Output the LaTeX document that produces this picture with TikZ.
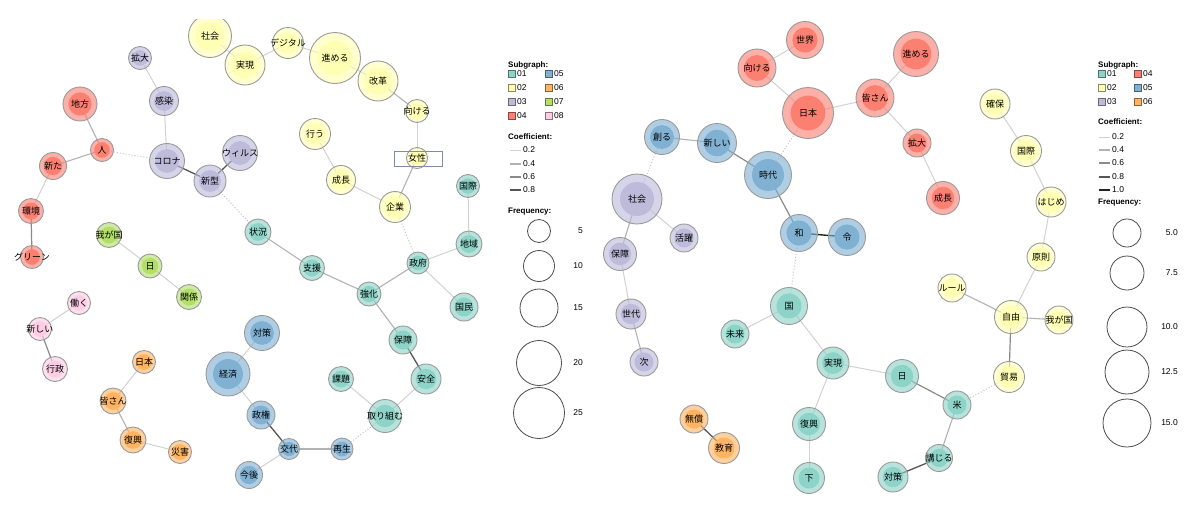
\documentclass[tikz,border=0pt]{standalone}
\usepackage{fontspec}
\setmainfont{Liberation Sans}
\newfontfamily\jpfont{Noto Sans CJK JP}
\usepackage{tikz}
\usetikzlibrary{calc}
\pgfdeclarelayer{background}
\pgfsetlayers{background,main}
\newsavebox{\kwbox}
\definecolor{SgTeal}{HTML}{8DD3C7}
\definecolor{SgYellow}{HTML}{FFFFB3}
\definecolor{SgLilac}{HTML}{BEBADA}
\definecolor{SgSalmon}{HTML}{FB8072}
\definecolor{SgBlue}{HTML}{80B1D3}
\definecolor{SgOrange}{HTML}{FDB462}
\definecolor{SgGreen}{HTML}{B3DE69}
\definecolor{SgPink}{HTML}{FCCDE5}
\definecolor{RingGray}{HTML}{9A9A9A}
\definecolor{EdgeTwo}{HTML}{D2D2D2}
\definecolor{EdgeFour}{HTML}{B2B2B2}
\definecolor{EdgeSix}{HTML}{8A8A8A}
\definecolor{EdgeEight}{HTML}{555555}
\definecolor{EdgeTen}{HTML}{222222}
\definecolor{LinkGray}{HTML}{C4C4C4}
\definecolor{SelFrame}{HTML}{7F8CA2}

\begin{document}
\begin{tikzpicture}[
    x=1pt, y=-1pt,
    kw/.style n args={2}{circle, draw=RingGray, line width=0.9pt, inner sep=0pt, minimum size=#1pt, fill=#2, fill opacity=0.62, text opacity=1, font=\jpfont\fontsize{9}{10}\selectfont,
      execute at begin node={\setbox\kwbox=\hbox\bgroup},
      execute at end node={\egroup\hbox to 0pt{\hss\usebox{\kwbox}\hss}},
      path picture={\fill[#2, fill opacity=1] (path picture bounding box.center) circle[radius=0.34*#1pt];}},
    sg1/.style={kw={#1}{SgTeal}},
    sg2/.style={kw={#1}{SgYellow}},
    sg3/.style={kw={#1}{SgLilac}},
    sg4/.style={kw={#1}{SgSalmon}},
    sg5/.style={kw={#1}{SgBlue}},
    sg6/.style={kw={#1}{SgOrange}},
    sg7/.style={kw={#1}{SgGreen}},
    sg8/.style={kw={#1}{SgPink}},
    wtwo/.style={draw=EdgeTwo, line width=1pt},
    wfour/.style={draw=EdgeFour, line width=1.1pt},
    wsix/.style={draw=EdgeSix, line width=1.2pt},
    weight/.style={draw=EdgeEight, line width=1.3pt},
    wten/.style={draw=EdgeTen, line width=1.4pt},
    xlink/.style={draw=LinkGray, dotted, line width=1pt},
    selbox/.style={rectangle, draw=SelFrame, line width=0.9pt, minimum width=48pt, minimum height=15pt, inner sep=0pt},
    lghead/.style={anchor=west, inner sep=0pt, font=\bfseries\fontsize{8}{9}\selectfont},
    lgtext/.style={anchor=west, inner sep=0pt, font=\fontsize{8.5}{9}\selectfont},
    lgnum/.style={anchor=east, inner sep=0pt, font=\fontsize{8.5}{9}\selectfont},
    swatch/.style={rectangle, draw=#1!55!black, fill=#1, line width=0.6pt, minimum size=6.5pt, inner sep=0pt},
    fq/.style={circle, draw=black!70, line width=0.8pt, minimum size=#1pt, inner sep=0pt}
  ]
  \useasboundingbox (0,0) rectangle (1200,507);
  \begin{pgfonlayer}{background}
    \fill[white] (0,0) rectangle (1200,507);
  \end{pgfonlayer}

  % ---- left network ----
  \begin{scope}
    \clip (0,19) rectangle (1200,507);
    \node[sg3=23] (lKakudai) at (140,58) {拡大};
    \node[sg3=29] (lKansen) at (164,101) {感染};
    \node[sg3=35] (lKorona) at (167,161) {コロナ};
    \node[sg3=32] (lShingata) at (210,181) {新型};
    \node[sg3=35] (lVirus) at (240,153) {ウィルス};

    \node[sg4=34] (lChihou) at (80,104) {地方};
    \node[sg4=23] (lHito) at (102,150) {人};
    \node[sg4=27] (lArata) at (53,166) {新た};
    \node[sg4=25] (lKankyo) at (31,211) {環境};
    \node[sg4=23] (lGreen) at (32,257) {グリーン};

    \node[sg7=25] (lWagakuni) at (109,235) {我が国};
    \node[sg7=24] (lHi) at (150,266) {日};
    \node[sg7=25] (lKankei) at (189,297) {関係};

    \node[sg8=23] (lHataraku) at (79,303) {働く};
    \node[sg8=23] (lAtarashii) at (40,329) {新しい};
    \node[sg8=25] (lGyousei) at (55,369) {行政};

    \node[sg6=23] (lNihon) at (144,362) {日本};
    \node[sg6=26] (lMinasan) at (113,401) {皆さん};
    \node[sg6=26] (lFukkou) at (133,440) {復興};
    \node[sg6=23] (lSaigai) at (180,452) {災害};

    \node[sg2=43] (lShakai) at (210,36) {社会};
    \node[sg2=40] (lJitsugen) at (245,65) {実現};
    \node[sg2=31] (lDigital) at (288,43) {デジタル};
    \node[sg2=51] (lSusumeru) at (335,58) {進める};
    \node[sg2=40] (lKaikaku) at (378,81) {改革};
    \node[sg2=23] (lMukeru) at (417,111) {向ける};
    \node[sg2=31] (lOkonau) at (315,134) {行う};
    \node[sg2=21] (lJosei) at (417,158) {女性};
    \node[sg2=29] (lSeichou) at (341,180) {成長};
    \node[sg2=31] (lKigyou) at (395,207) {企業};

    \node[sg1=23] (lKokusai) at (468,186) {国際};
    \node[sg1=26] (lChiiki) at (469,244) {地域};
    \node[sg1=26] (lJoukyou) at (258,232) {状況};
    \node[sg1=25] (lShien) at (312,268) {支援};
    \node[sg1=22] (lSeifu) at (418,263) {政府};
    \node[sg1=28] (lKokumin) at (464,307) {国民};
    \node[sg1=24] (lKyouka) at (369,294) {強化};
    \node[sg1=28] (lHoshou) at (403,340) {保障};
    \node[sg1=30] (lAnzen) at (426,379) {安全};
    \node[sg1=25] (lKadai) at (341,379) {課題};
    \node[sg1=33] (lTorikumu) at (385,416) {取り組む};

    \node[sg5=44] (lKeizai) at (228,374) {経済};
    \node[sg5=35] (lTaisaku) at (262,333) {対策};
    \node[sg5=28] (lSeiken) at (261,415) {政権};
    \node[sg5=21] (lKoutai) at (289,449) {交代};
    \node[sg5=27] (lKongo) at (249,475) {今後};
    \node[sg5=22] (lSaisei) at (342,449) {再生};

  % ---- right network ----
    \node[sg4=37] (rSekai) at (805,40) {世界};
    \node[sg4=38] (rMukeru) at (757,68) {向ける};
    \node[sg4=51] (rNihon) at (808,113) {日本};
    \node[sg4=38] (rMinasan) at (875,98) {皆さん};
    \node[sg4=45] (rSusumeru) at (916,54) {進める};
    \node[sg4=28] (rKakudai) at (917,143) {拡大};
    \node[sg4=33] (rSeichou) at (943,198) {成長};

    \node[sg5=35] (rTsukuru) at (662,137) {創る};
    \node[sg5=39] (rAtarashii) at (717,143) {新しい};
    \node[sg5=47] (rJidai) at (768,175) {時代};
    \node[sg5=37] (rWa) at (799,233) {和};
    \node[sg5=37] (rRei) at (847,237) {令};

    \node[sg3=50] (rShakai) at (637,199) {社会};
    \node[sg3=28] (rKatsuyaku) at (684,238) {活躍};
    \node[sg3=33] (rHoshou) at (620,254) {保障};
    \node[sg3=30] (rSedai) at (631,314) {世代};
    \node[sg3=28] (rTsugi) at (644,362) {次};

    \node[sg1=37] (rKuni) at (789,306) {国};
    \node[sg1=28] (rMirai) at (735,334) {未来};
    \node[sg1=32] (rJitsugen) at (833,363) {実現};
    \node[sg1=33] (rHi) at (902,376) {日};
    \node[sg1=28] (rBei) at (957,405) {米};
    \node[sg1=27] (rKoujiru) at (939,458) {講じる};
    \node[sg1=30] (rTaisaku) at (893,477) {対策};
    \node[sg1=33] (rFukkou) at (809,424) {復興};
    \node[sg1=31] (rShita) at (809,478) {下};

    \node[sg6=28] (rMushou) at (694,419) {無償};
    \node[sg6=31] (rKyouiku) at (724,448) {教育};

    \node[sg2=30] (rKakuho) at (995,104) {確保};
    \node[sg2=31] (rKokusai) at (1026,151) {国際};
    \node[sg2=30] (rHajime) at (1051,202) {はじめ};
    \node[sg2=28] (rGensoku) at (1041,257) {原則};
    \node[sg2=28] (rRule) at (952,288) {ルール};
    \node[sg2=33] (rJiyuu) at (1011,317) {自由};
    \node[sg2=28] (rWagakuni) at (1059,320) {我が国};
    \node[sg2=31] (rBoueki) at (1009,377) {貿易};
  \end{scope}

  \node[selbox] (lJoseiBox) at (418,158.5) {};

  \begin{pgfonlayer}{background}
    % left edges
    \draw[wtwo] (lKakudai.center) -- (lKansen.center);
    \draw[wtwo] (lKansen.center) -- (lKorona.center);
    \draw[weight] (lKorona.center) -- (lShingata.center);
    \draw[weight] (lShingata.center) -- (lVirus.center);
    \draw[wfour] (lChihou.center) -- (lHito.center);
    \draw[wfour] (lHito.center) -- (lArata.center);
    \draw[wtwo] (lArata.center) -- (lKankyo.center);
    \draw[wsix] (lKankyo.center) -- (lGreen.center);
    \draw[xlink] (lHito.center) -- (lKorona.center);
    \draw[xlink] (lShingata.center) -- (lJoukyou.center);
    \draw[wtwo] (lWagakuni.center) -- (lHi.center);
    \draw[wtwo] (lHi.center) -- (lKankei.center);
    \draw[wtwo] (lHataraku.center) -- (lAtarashii.center);
    \draw[wsix] (lAtarashii.center) -- (lGyousei.center);
    \draw[wtwo] (lNihon.center) -- (lMinasan.center);
    \draw[wfour] (lMinasan.center) -- (lFukkou.center);
    \draw[wtwo] (lFukkou.center) -- (lSaigai.center);
    \draw[wtwo] (lShakai.center) -- (lJitsugen.center);
    \draw[wtwo] (lJitsugen.center) -- (lDigital.center);
    \draw[wtwo] (lDigital.center) -- (lSusumeru.center);
    \draw[wtwo] (lSusumeru.center) -- (lKaikaku.center);
    \draw[wfour] (lKaikaku.center) -- (lMukeru.center);
    \draw[wtwo] (lMukeru.center) -- (lJosei.center);
    \draw[wfour] (lJosei.center) -- (lKigyou.center);
    \draw[wtwo] (lOkonau.center) -- (lSeichou.center);
    \draw[wtwo] (lSeichou.center) -- (lKigyou.center);
    \draw[xlink] (lKigyou.center) -- (lSeifu.center);
    \draw[wtwo] (lKokusai.center) -- (lChiiki.center);
    \draw[wtwo] (lChiiki.center) -- (lSeifu.center);
    \draw[wtwo] (lSeifu.center) -- (lKokumin.center);
    \draw[wfour] (lSeifu.center) -- (lKyouka.center);
    \draw[wfour] (lJoukyou.center) -- (lShien.center);
    \draw[wfour] (lShien.center) -- (lKyouka.center);
    \draw[wfour] (lKyouka.center) -- (lHoshou.center);
    \draw[weight] (lHoshou.center) -- (lAnzen.center);
    \draw[wtwo] (lAnzen.center) -- (lTorikumu.center);
    \draw[wtwo] (lKadai.center) -- (lTorikumu.center);
    \draw[xlink] (lTorikumu.center) -- (lSaisei.center);
    \draw[wfour] (lSaisei.center) -- (lKoutai.center);
    \draw[weight] (lKoutai.center) -- (lSeiken.center);
    \draw[wtwo] (lKoutai.center) -- (lKongo.center);
    \draw[wtwo] (lSeiken.center) -- (lKeizai.center);
    \draw[wtwo] (lKeizai.center) -- (lTaisaku.center);
    % right edges
    \draw[wtwo] (rSekai.center) -- (rMukeru.center);
    \draw[wtwo] (rMukeru.center) -- (rNihon.center);
    \draw[wtwo] (rNihon.center) -- (rMinasan.center);
    \draw[wtwo] (rMinasan.center) -- (rSusumeru.center);
    \draw[wtwo] (rMinasan.center) -- (rKakudai.center);
    \draw[wtwo] (rKakudai.center) -- (rSeichou.center);
    \draw[xlink] (rNihon.center) -- (rJidai.center);
    \draw[wfour] (rTsukuru.center) -- (rAtarashii.center);
    \draw[wsix] (rAtarashii.center) -- (rJidai.center);
    \draw[wsix] (rJidai.center) -- (rWa.center);
    \draw[wten] (rWa.center) -- (rRei.center);
    \draw[xlink] (rTsukuru.center) -- (rShakai.center);
    \draw[wtwo] (rShakai.center) -- (rKatsuyaku.center);
    \draw[wfour] (rShakai.center) -- (rHoshou.center);
    \draw[wtwo] (rHoshou.center) -- (rSedai.center);
    \draw[wfour] (rSedai.center) -- (rTsugi.center);
    \draw[xlink] (rWa.center) -- (rKuni.center);
    \draw[wtwo] (rKuni.center) -- (rMirai.center);
    \draw[wtwo] (rKuni.center) -- (rJitsugen.center);
    \draw[wtwo] (rJitsugen.center) -- (rHi.center);
    \draw[wtwo] (rJitsugen.center) -- (rFukkou.center);
    \draw[wtwo] (rFukkou.center) -- (rShita.center);
    \draw[wsix] (rHi.center) -- (rBei.center);
    \draw[wfour] (rBei.center) -- (rKoujiru.center);
    \draw[weight] (rKoujiru.center) -- (rTaisaku.center);
    \draw[xlink] (rBei.center) -- (rBoueki.center);
    \draw[weight] (rMushou.center) -- (rKyouiku.center);
    \draw[wtwo] (rKakuho.center) -- (rKokusai.center);
    \draw[wtwo] (rKokusai.center) -- (rHajime.center);
    \draw[wtwo] (rHajime.center) -- (rGensoku.center);
    \draw[wtwo] (rGensoku.center) -- (rJiyuu.center);
    \draw[wfour] (rRule.center) -- (rJiyuu.center);
    \draw[wfour] (rJiyuu.center) -- (rWagakuni.center);
    \draw[wsix] (rJiyuu.center) -- (rBoueki.center);
  \end{pgfonlayer}

  % ---- left legend ----
  \node[lghead] (lLegSub) at (508,65) {Subgraph:};
  \node[swatch=SgTeal] (lSwA) at (512,74) {};
  \node[lgtext] (lSwAt) at (517,74) {01};
  \node[swatch=SgYellow] (lSwB) at (512,88) {};
  \node[lgtext] (lSwBt) at (517,88) {02};
  \node[swatch=SgLilac] (lSwC) at (512,102) {};
  \node[lgtext] (lSwCt) at (517,102) {03};
  \node[swatch=SgSalmon] (lSwD) at (512,116) {};
  \node[lgtext] (lSwDt) at (517,116) {04};
  \node[swatch=SgBlue] (lSwE) at (549,74) {};
  \node[lgtext] (lSwEt) at (554,74) {05};
  \node[swatch=SgOrange] (lSwF) at (549,88) {};
  \node[lgtext] (lSwFt) at (554,88) {06};
  \node[swatch=SgGreen] (lSwG) at (549,102) {};
  \node[lgtext] (lSwGt) at (554,102) {07};
  \node[swatch=SgPink] (lSwH) at (549,116) {};
  \node[lgtext] (lSwHt) at (554,116) {08};

  \node[lghead] (lLegCo) at (508,137) {Coefficient:};
  \node[lgtext] (lCoA) at (523,150) {0.2};
  \node[lgtext] (lCoB) at (523,164) {0.4};
  \node[lgtext] (lCoC) at (523,177) {0.6};
  \node[lgtext] (lCoD) at (523,190) {0.8};
  \draw[wtwo] ([xshift=-13pt]lCoA.west) -- ([xshift=-2pt]lCoA.west);
  \draw[wfour] ([xshift=-13pt]lCoB.west) -- ([xshift=-2pt]lCoB.west);
  \draw[wsix] ([xshift=-13pt]lCoC.west) -- ([xshift=-2pt]lCoC.west);
  \draw[weight] ([xshift=-13pt]lCoD.west) -- ([xshift=-2pt]lCoD.west);

  \node[lghead] (lLegFq) at (508,212) {Frequency:};
  \node[fq=23] (lFqA) at (539,231) {};
  \node[lgnum] (lFqAt) at (583,231) {5};
  \node[fq=31] (lFqB) at (539,266) {};
  \node[lgnum] (lFqBt) at (583,266) {10};
  \node[fq=38] (lFqC) at (539,308) {};
  \node[lgnum] (lFqCt) at (583,308) {15};
  \node[fq=45] (lFqD) at (539,363) {};
  \node[lgnum] (lFqDt) at (583,363) {20};
  \node[fq=51] (lFqE) at (539,413) {};
  \node[lgnum] (lFqEt) at (583,413) {25};

  % ---- right legend ----
  \node[lghead] (rLegSub) at (1098,65) {Subgraph:};
  \node[swatch=SgTeal] (rSwA) at (1102,74) {};
  \node[lgtext] (rSwAt) at (1107,74) {01};
  \node[swatch=SgYellow] (rSwB) at (1102,88) {};
  \node[lgtext] (rSwBt) at (1107,88) {02};
  \node[swatch=SgLilac] (rSwC) at (1102,102) {};
  \node[lgtext] (rSwCt) at (1107,102) {03};
  \node[swatch=SgSalmon] (rSwD) at (1138,74) {};
  \node[lgtext] (rSwDt) at (1143,74) {04};
  \node[swatch=SgBlue] (rSwE) at (1138,88) {};
  \node[lgtext] (rSwEt) at (1143,88) {05};
  \node[swatch=SgOrange] (rSwF) at (1138,102) {};
  \node[lgtext] (rSwFt) at (1143,102) {06};

  \node[lghead] (rLegCo) at (1098,122) {Coefficient:};
  \node[lgtext] (rCoA) at (1112,137) {0.2};
  \node[lgtext] (rCoB) at (1112,150) {0.4};
  \node[lgtext] (rCoC) at (1112,163) {0.6};
  \node[lgtext] (rCoD) at (1112,177) {0.8};
  \node[lgtext] (rCoE) at (1112,190) {1.0};
  \draw[wtwo] ([xshift=-13pt]rCoA.west) -- ([xshift=-2pt]rCoA.west);
  \draw[wfour] ([xshift=-13pt]rCoB.west) -- ([xshift=-2pt]rCoB.west);
  \draw[wsix] ([xshift=-13pt]rCoC.west) -- ([xshift=-2pt]rCoC.west);
  \draw[weight] ([xshift=-13pt]rCoD.west) -- ([xshift=-2pt]rCoD.west);
  \draw[wten] ([xshift=-13pt]rCoE.west) -- ([xshift=-2pt]rCoE.west);

  \node[lghead] (rLegFq) at (1098,203) {Frequency:};
  \node[fq=28] (rFqA) at (1127,233) {};
  \node[lgnum] (rFqAt) at (1178,233) {5.0};
  \node[fq=34] (rFqB) at (1127,273) {};
  \node[lgnum] (rFqBt) at (1178,273) {7.5};
  \node[fq=40] (rFqC) at (1127,327) {};
  \node[lgnum] (rFqCt) at (1178,327) {10.0};
  \node[fq=44] (rFqD) at (1127,372) {};
  \node[lgnum] (rFqDt) at (1178,372) {12.5};
  \node[fq=48] (rFqE) at (1127,423) {};
  \node[lgnum] (rFqEt) at (1178,423) {15.0};
\end{tikzpicture}
\end{document}
